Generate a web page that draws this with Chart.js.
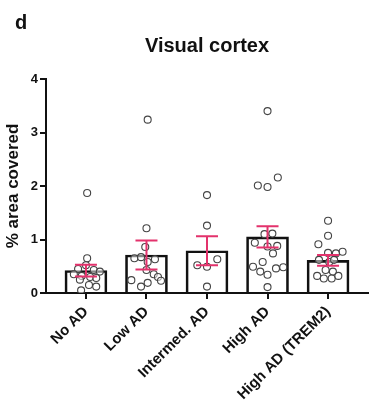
<!DOCTYPE html>
<html>
<head>
<meta charset="utf-8">
<script src="https://cdn.jsdelivr.net/npm/chart.js@4"></script>
<style>
  html, body { margin: 0; padding: 0; background: #fff; }
  #wrap { width: 375px; height: 413px; }
</style>
</head>
<body>
<div id="wrap"><canvas id="chart" width="375" height="413"></canvas></div>
<script>
const groups = ["No AD", "Low AD", "Intermed. AD", "High AD", "High AD (TREM2)"];
const means = [0.42, 0.71, 0.79, 1.05, 0.61];
const sems = [0.11, 0.27, 0.27, 0.20, 0.10];

// individual samples per group, with horizontal scatter (category units)
const noAD = [1.87, 0.65, 0.52, 0.45, 0.43, 0.40, 0.35, 0.32, 0.30, 0.28, 0.25, 0.15, 0.12, 0.05];
const noADJitter = [0.02, 0.02, 0, -0.13, 0.13, 0.23, -0.2, -0.07, 0.07, 0.17, -0.1, 0.05, 0.17, -0.08];
const lowAD = [3.24, 1.21, 0.86, 0.65, 0.67, 0.58, 0.63, 0.43, 0.24, 0.35, 0.30, 0.23, 0.12, 0.19];
const lowADJitter = [0.02, 0, -0.02, -0.2, -0.09, 0.02, 0.14, 0, -0.25, 0.12, 0.19, 0.24, -0.09, 0.02];
const intermedAD = [1.83, 1.26, 0.63, 0.52, 0.49, 0.12];
const intermedADJitter = [0, 0, 0.17, -0.16, 0, 0];
const highAD = [3.40, 2.01, 1.98, 2.16, 1.11, 1.10, 0.94, 0.88, 0.87, 0.74, 0.58, 0.49, 0.40, 0.34, 0.46, 0.48, 0.11];
const highADJitter = [0, -0.16, 0, 0.17, 0.08, -0.05, -0.21, 0.16, 0, 0.09, -0.08, -0.24, -0.12, 0, 0.14, 0.26, 0];
const trem2 = [1.35, 1.07, 0.91, 0.75, 0.77, 0.74, 0.62, 0.58, 0.62, 0.43, 0.40, 0.32, 0.27, 0.27, 0.32];
const trem2Jitter = [0, 0, -0.16, 0, 0.24, 0.13, -0.15, 0.02, 0.1, -0.04, 0.08, -0.18, -0.07, 0.06, 0.17];

const yTicks = [0, 1, 2, 3, 4];

const samples = [noAD, lowAD, intermedAD, highAD, trem2];
const jitters = [noADJitter, lowADJitter, intermedADJitter, highADJitter, trem2Jitter];

const points = [];
samples.forEach((vals, g) => {
    vals.forEach((v, i) => points.push({ x: g + jitters[g][i], y: v }));
});

const errorBars = {
    id: "errorBars",
    afterDatasetsDraw(chart) {
        const { ctx, scales } = chart;
        ctx.save();
        ctx.strokeStyle = "#e3326c";
        ctx.lineWidth = 2;
        means.forEach((m, i) => {
            const x = scales.x.getPixelForValue(i);
            const yTop = scales.y.getPixelForValue(m + sems[i]);
            const yBot = scales.y.getPixelForValue(m - sems[i]);
            ctx.beginPath();
            ctx.moveTo(x, yTop); ctx.lineTo(x, yBot);
            ctx.moveTo(x - 11, yTop); ctx.lineTo(x + 11, yTop);
            ctx.moveTo(x - 11, yBot); ctx.lineTo(x + 11, yBot);
            ctx.stroke();
        });
        ctx.restore();
    }
};

const headings = {
    id: "headings",
    afterDraw(chart) {
        const { ctx, chartArea } = chart;
        ctx.save();
        ctx.fillStyle = "#111";
        ctx.textBaseline = "alphabetic";
        ctx.font = "bold 20px 'Liberation Sans', Arial, sans-serif";
        ctx.textAlign = "left";
        ctx.fillText("d", 15, 29);
        ctx.font = "bold 20px 'Liberation Sans', Arial, sans-serif";
        ctx.textAlign = "center";
        ctx.fillText("Visual cortex", (chartArea.left + chartArea.right) / 2, 52);
        ctx.restore();
    }
};

const font = { family: "'Liberation Sans', Arial, sans-serif", weight: "bold" };

new Chart(document.getElementById("chart"), {
    type: "bar",
    data: {
        datasets: [
            {
                type: "scatter",
                data: points,
                pointRadius: 3.5,
                pointBorderWidth: 1.1,
                borderColor: "#444",
                backgroundColor: "rgba(255,255,255,0.5)",
                order: 1
            },
            {
                type: "bar",
                data: means.map((m, i) => ({ x: i, y: m })),
                backgroundColor: "rgba(255,255,255,0)",
                borderColor: "#111",
                borderWidth: 2,
                barThickness: 42,
                order: 2
            }
        ]
    },
    options: {
        responsive: false,
        animation: false,
        layout: { padding: { top: 79, right: 7, left: 0, bottom: 0 } },
        plugins: {
            legend: { display: false },
            tooltip: { enabled: false }
        },
        scales: {
            x: {
                type: "linear",
                offset: false,
                min: -0.66,
                max: 4.66,
                afterBuildTicks(scale) {
                    scale.ticks = groups.map((g, i) => ({ value: i }));
                },
                afterFit(scale) { scale.height = 120; },
                grid: { offset: false, drawOnChartArea: false, drawTicks: true, tickLength: 6, color: "#111", lineWidth: 2 },
                border: { display: true, color: "#111", width: 2 },
                ticks: {
                    autoSkip: false,
                    minRotation: 45,
                    maxRotation: 45,
                    padding: 4,
                    color: "#111",
                    font: { ...font, size: 15 },
                    callback: (v) => groups[v]
                }
            },
            y: {
                min: 0,
                max: 4,
                afterBuildTicks(scale) {
                    scale.ticks = yTicks.map(v => ({ value: v }));
                },
                afterFit(scale) { scale.width = 46; },
                grid: { drawOnChartArea: false, drawTicks: true, tickLength: 6, color: "#111", lineWidth: 2 },
                border: { display: true, color: "#111", width: 2 },
                ticks: { padding: 2, color: "#111", font: { ...font, size: 13 } },
                title: {
                    display: true,
                    text: "% area covered",
                    color: "#111",
                    font: { ...font, size: 17 },
                    padding: { top: 3, bottom: 4 }
                }
            }
        }
    },
    plugins: [errorBars, headings]
});
</script>
</body>
</html>
